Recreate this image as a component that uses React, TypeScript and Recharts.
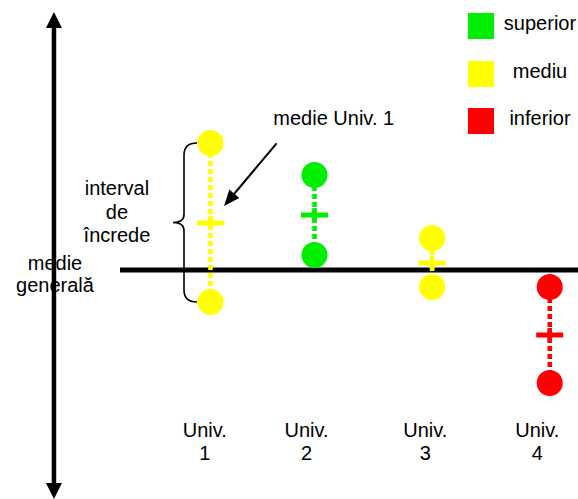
import React from "react";
import {
  ComposedChart,
  Scatter,
  XAxis,
  YAxis,
  ReferenceLine,
  ReferenceDot,
  Legend,
} from "recharts";

// universities, in order along the axis
const universities = ["Univ. 1", "Univ. 2", "Univ. 3", "Univ. 4"];
const positions = [1, 1.92, 2.96, 4];
const labelPositions = [0.95, 1.85, 2.9, 3.89];
const universityGroups = ["mediu", "superior", "mediu", "inferior"];

// values relative to the overall mean (0)
const means = [4.7, 5.5, 0.7, -6.5];
const lower = [-3.2, 1.5, -1.7, -11.3];
const upper = [12.7, 9.5, 3.2, -1.7];

const categories = ["superior", "mediu", "inferior"];
const categoryColors = ["#00ee00", "#ffff00", "#ff0000"];

const FONT = "'Liberation Sans', Arial, sans-serif";
const colorOf = (g: string) => categoryColors[categories.indexOf(g)];

const boundData = universities.map((u, i) => [
  { x: positions[i], y: lower[i], name: u },
  { x: positions[i], y: upper[i], name: u },
]);
const meanData = universities.map((u, i) => ({
  x: positions[i],
  y: means[i],
  name: u,
  color: colorOf(universityGroups[i]),
}));

const Bound = (p: any) => <circle cx={p.cx} cy={p.cy} r={13} fill={p.fill} />;

const MeanMark = (p: any) => {
  const c = p.payload.color;
  return (
    <g>
      <rect x={p.cx - 13.5} y={p.cy - 2.5} width={27} height={5} fill={c} />
      <rect x={p.cx - 2.25} y={p.cy - 7} width={4.5} height={14} fill={c} />
    </g>
  );
};

const arrowShape = (head: number, width: number, sw: number, both: boolean) => (p: any) => {
  const { x1, y1, x2, y2 } = p;
  const dx = x2 - x1;
  const dy = y2 - y1;
  const len = Math.hypot(dx, dy);
  const ux = dx / len;
  const uy = dy / len;
  const tri = (tx: number, ty: number, ax: number, ay: number) => {
    const bx = tx - ax * head;
    const by = ty - ay * head;
    return `${tx},${ty} ${bx - (ay * width) / 2},${by + (ax * width) / 2} ${bx + (ay * width) / 2},${by - (ax * width) / 2}`;
  };
  return (
    <g>
      <line
        x1={both ? x1 + ux * head : x1}
        y1={both ? y1 + uy * head : y1}
        x2={x2 - ux * (head - 1)}
        y2={y2 - uy * (head - 1)}
        stroke="#000"
        strokeWidth={sw}
      />
      <polygon points={tri(x2, y2, ux, uy)} fill="#000" />
      {both && <polygon points={tri(x1, y1, -ux, -uy)} fill="#000" />}
    </g>
  );
};

const braceShape = (p: any) => {
  const { x1, y1, y2 } = p;
  const x = x1;
  const ym = (y1 + y2) / 2;
  const d = `M${x + 13},${y1} Q${x},${y1} ${x},${y1 + 12} L${x},${ym - 8} Q${x},${ym} ${x - 11},${ym} Q${x},${ym} ${x},${ym + 8} L${x},${y2 - 12} Q${x},${y2} ${x + 13},${y2}`;
  return <path d={d} fill="none" stroke="#000" strokeWidth={1.6} />;
};

const textShape = (lines: string[], step: number) => (p: any) => (
  <text x={p.cx} y={p.cy} textAnchor="middle" fontFamily={FONT} fontSize={20} fill="#000">
    {lines.map((l, i) => (
      <tspan key={l} x={p.cx} dy={i === 0 ? 0 : step}>
        {l}
      </tspan>
    ))}
  </text>
);

const UnivTick = (p: any) => {
  const i = labelPositions.findIndex((v) => Math.abs(v - p.payload.value) < 1e-6);
  const [a, b] = (universities[i] || "").split(" ");
  return (
    <text x={p.x} y={480} textAnchor="middle" fontFamily={FONT} fontSize={20} fill="#000">
      <tspan x={p.x} dy={-43}>
        {a}
      </tspan>
      <tspan x={p.x} dy={23}>
        {b}
      </tspan>
    </text>
  );
};

const LegendContent = () => (
  <div style={{ fontFamily: FONT, fontSize: 20, lineHeight: "20px", color: "#000" }}>
    {categories.map((c, i) => (
      <div key={c} style={{ display: "flex", alignItems: "flex-start", height: 26, marginBottom: 21.5 }}>
        <div style={{ width: 26, height: 26, background: categoryColors[i] }} />
        <span style={{ width: 76, paddingLeft: 8, textAlign: "center" }}>{c}</span>
      </div>
    ))}
  </div>
);

export default function App() {
  return (
    <div
      style={{
        position: "absolute",
        left: 0,
        top: 0,
        width: 578,
        height: 499,
        overflow: "hidden",
        background: "#fff",
      }}
    >
      <ComposedChart width={578} height={499} margin={{ top: 20, right: 0, bottom: 0, left: 120 }}>
        <XAxis
          type="number"
          dataKey="x"
          domain={[0.2, 4.25]}
          allowDataOverflow
          ticks={labelPositions}
          interval={0}
          axisLine={false}
          tickLine={false}
          tickSize={0}
          tickMargin={0}
          height={19}
          tick={<UnivTick />}
        />
        <YAxis type="number" dataKey="y" domain={[-21, 25]} allowDataOverflow hide />
        <Legend
          layout="vertical"
          align="center"
          verticalAlign="middle"
          content={<LegendContent />}
          wrapperStyle={{ top: 13, left: 468, width: 110 }}
        />
        {universities.map((u, i) => (
          <Scatter
            key={u}
            name={u}
            data={boundData[i]}
            fill={colorOf(universityGroups[i])}
            line={{ stroke: colorOf(universityGroups[i]), strokeWidth: 4.5, strokeDasharray: "5 3" }}
            shape={Bound}
            legendType="none"
            isAnimationActive={false}
          />
        ))}
        <Scatter
          name="medie"
          data={meanData}
          fill="#000"
          shape={MeanMark}
          legendType="none"
          isAnimationActive={false}
        />
        <ReferenceLine y={0} stroke="#000" strokeWidth={5} />
        <ReferenceLine
          segment={[
            { x: -0.384, y: 25.8 },
            { x: -0.384, y: -22.9 },
          ]}
          ifOverflow="visible"
          shape={arrowShape(16, 16, 4.5, true)}
        />
        <ReferenceLine
          segment={[
            { x: 1.585, y: 12.67 },
            { x: 1.12, y: 6.4 },
          ]}
          ifOverflow="visible"
          shape={arrowShape(16, 13, 2, false)}
        />
        <ReferenceLine
          segment={[
            { x: 0.766, y: upper[0] },
            { x: 0.766, y: lower[0] },
          ]}
          ifOverflow="visible"
          shape={braceShape}
        />
        <ReferenceDot x={2.09} y={14.5} r={0} ifOverflow="visible" shape={textShape(["medie Univ. 1"], 0)} />
        <ReferenceDot
          x={0.173}
          y={7.5}
          r={0}
          ifOverflow="visible"
          shape={textShape(["interval", "de", "încrede"], 23.5)}
        />
        <ReferenceDot
          x={-0.375}
          y={0}
          r={0}
          ifOverflow="visible"
          shape={textShape(["medie", "generală"], 22)}
        />
      </ComposedChart>
    </div>
  );
}
